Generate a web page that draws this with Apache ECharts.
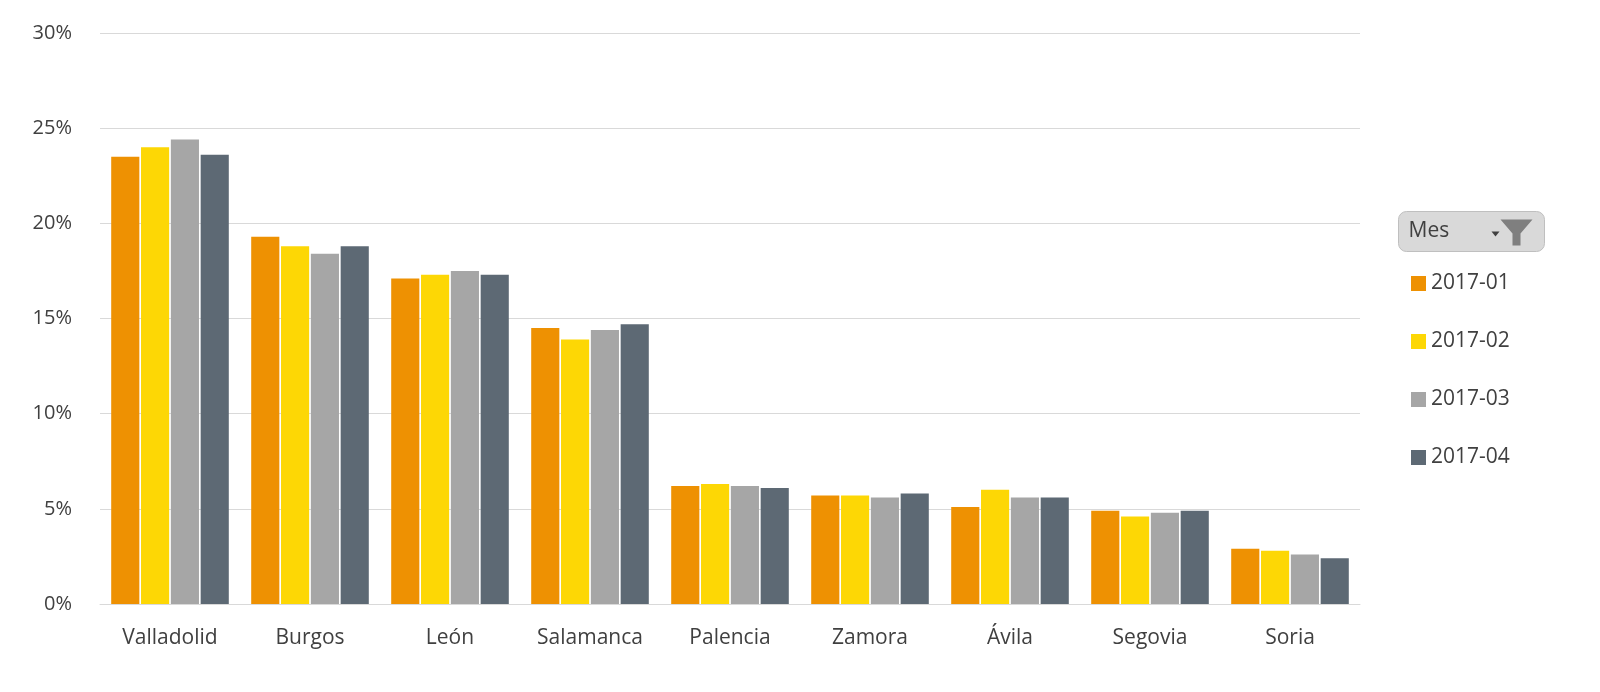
<!DOCTYPE html>
<html>
<head>
<meta charset="UTF-8">
<script src="https://cdn.jsdelivr.net/npm/echarts@6/dist/echarts.min.js"></script>
</head>
<body style="margin:0">
<div id="mycharts" style="width:1600px;height:692px;"></div>
<script>
var categories = ['Valladolid', 'Burgos', 'León', 'Salamanca', 'Palencia', 'Zamora', 'Ávila', 'Segovia', 'Soria']
var seriesNames = ['2017-01', '2017-02', '2017-03', '2017-04']
var m01 = [23.5, 19.3, 17.1, 14.5, 6.2, 5.7, 5.1, 4.9, 2.9]
var m02 = [24.0, 18.8, 17.3, 13.9, 6.3, 5.7, 6.0, 4.6, 2.8]
var m03 = [24.4, 18.4, 17.5, 14.4, 6.2, 5.6, 5.6, 4.8, 2.6]
var m04 = [23.6, 18.8, 17.3, 14.7, 6.1, 5.8, 5.6, 4.9, 2.4]
var colors = ['#ee9102', '#fdd705', '#a6a6a6', '#5d6974']

var chart = echarts.init(document.getElementById('mycharts'))
var font = 'Open Sans'
var series = [m01, m02, m03, m04].map(function (d, i) {
    return {
        name: seriesNames[i],
        type: 'bar',
        data: d,
        barGap: '6%',
        barCategoryGap: '16%'
    }
})
chart.setOption({
    color: colors,
    textStyle: { fontFamily: font },
    grid: { left: 100, right: 240, top: 33, bottom: 88 },
    legend: {
        orient: 'vertical',
        left: 1406, top: 268,
        itemWidth: 15, itemHeight: 15, itemGap: 37,
        icon: 'rect',
        textStyle: { fontSize: 21, color: '#404040', fontFamily: font },
        data: seriesNames
    },
    graphic: [{
        type: 'group', left: 1398, top: 211,
        children: [
            { type: 'rect', shape: { x: 0, y: 0, width: 146, height: 40, r: 8 },
              style: { fill: '#d9d9d9', stroke: '#bfbfbf' } },
            { type: 'text', x: 10, y: 9, style: { text: 'Mes', fontSize: 21, fill: '#404040', fontFamily: font } },
            { type: 'polygon', shape: { points: [[102, 8], [134, 8], [122, 22], [122, 34], [114, 34], [114, 22]] },
              style: { fill: '#7f7f7f' } },
            { type: 'polygon', shape: { points: [[93, 20], [101, 20], [97, 25]] }, style: { fill: '#404040' } }
        ]
    }],
    xAxis: {
        type: 'category',
        data: categories,
        axisTick: { show: false },
        axisLine: { lineStyle: { color: '#d9d9d9' } },
        axisLabel: { fontSize: 21, color: '#404040', margin: 24 }
    },
    yAxis: {
        type: 'value', min: 0, max: 30, interval: 5,
        axisLabel: { formatter: '{value}%', fontSize: 20, color: '#404040', margin: 28 },
        splitLine: { lineStyle: { color: '#d9d9d9' } }
    },
    series: series
})
</script>
</body>
</html>
